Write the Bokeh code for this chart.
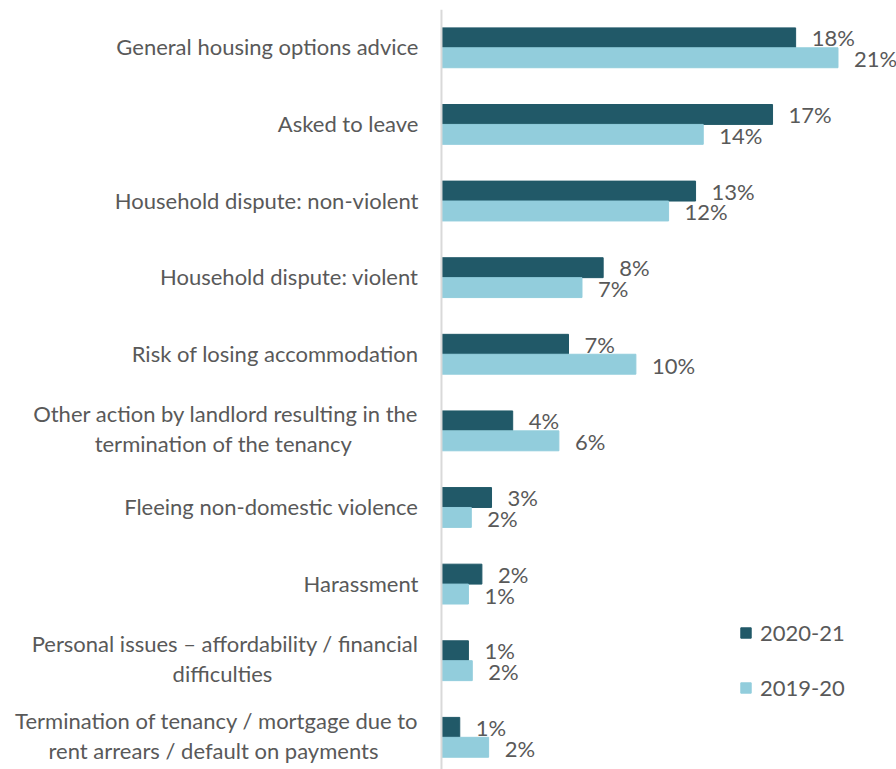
from bokeh.plotting import figure
from bokeh.models import Range1d, ColumnDataSource, Legend, LegendItem, Span
from bokeh.embed import file_html
from bokeh.resources import INLINE
from bokeh.core.properties import value

# ---------------- data ----------------
categories = [
    "General housing options advice",
    "Asked to leave",
    "Household dispute: non-violent",
    "Household dispute: violent",
    "Risk of losing accommodation",
    "Other action by landlord resulting in the\ntermination of the tenancy",
    "Fleeing non-domestic violence",
    "Harassment",
    "Personal issues \u2013 affordability / financial\ndifficulties",
    "Termination of tenancy / mortgage due to\nrent arrears / default on payments",
]
series_names = ["2020-21", "2019-20"]
values_2020_21 = [18.4, 17.2, 13.2, 8.4, 6.6, 3.7, 2.6, 2.1, 1.4, 0.95]
values_2019_20 = [20.6, 13.6, 11.8, 7.3, 10.1, 6.1, 1.55, 1.4, 1.6, 2.45]
labels_2020_21 = ["18%", "17%", "13%", "8%", "7%", "4%", "3%", "2%", "1%", "1%"]
labels_2019_20 = ["21%", "14%", "12%", "7%", "10%", "6%", "2%", "1%", "2%", "2%"]

# ---------------- styling ----------------
DARK = "#215968"
LIGHT = "#92CDDC"
TEXT = "#595959"
FONT = "Lato"
FS = "22px"
BAR_H = 0.26

n = len(categories)
idx = list(range(n))

p = figure(width=896, height=769,
           x_range=Range1d(-22.91, 23.64), y_range=Range1d(9.42, -0.5),
           x_axis_location=None, y_axis_location=None,
           output_backend="svg", toolbar_location=None,
           min_border_left=0, min_border_right=0, min_border_top=9, min_border_bottom=0)
p.grid.visible = False
p.outline_line_color = None
p.background_fill_color = "white"

src = ColumnDataSource(dict(
    y1=[i - BAR_H / 2 for i in idx],
    y2=[i + BAR_H / 2 for i in idx],
    v1=values_2020_21, v2=values_2019_20,
    l1=labels_2020_21, l2=labels_2019_20,
))

r1 = p.hbar(y="y1", left=0, right="v1", height=BAR_H, source=src,
            fill_color=DARK, line_color=DARK)
r2 = p.hbar(y="y2", left=0, right="v2", height=BAR_H, source=src,
            fill_color=LIGHT, line_color=LIGHT)

p.add_layout(Span(location=0, dimension="height", line_color="#D9D9D9", line_width=2))

common = dict(text_font=value(FONT), text_font_size=FS, text_color=TEXT,
              text_baseline="middle")
p.text(x="v1", y="y1", text="l1", source=src, x_offset=16, y_offset=0,
       text_align="left", **common)
p.text(x="v2", y="y2", text="l2", source=src, x_offset=16, y_offset=1,
       text_align="left", **common)

# category labels
single_y, single_t = [], []
first_y, first_t = [], []
second_y, second_t, second_off = [], [], []
center_offsets = {5: -218, 8: -219, 9: -228}
for i, c in enumerate(categories):
    parts = c.split("\n")
    if len(parts) == 1:
        single_y.append(i); single_t.append(c)
    else:
        first_y.append(i); first_t.append(parts[0])
        second_y.append(i); second_t.append(parts[1]); second_off.append(center_offsets[i])

p.text(x=[0] * len(single_y), y=single_y, text=single_t, x_offset=-23, y_offset=-1,
       text_align="right", **common)
p.text(x=[0] * len(first_y), y=first_y, text=first_t, x_offset=-23, y_offset=-17,
       text_align="right", **common)
p.text(x=[0] * len(second_y), y=second_y, text=second_t, x_offset=second_off, y_offset=13,
       text_align="center", **common)

legend = Legend(items=[LegendItem(label=series_names[0], renderers=[r1]),
                       LegendItem(label=series_names[1], renderers=[r2])],
                location=(739, 68), orientation="vertical",
                glyph_width=13, glyph_height=13, label_height=13,
                label_standoff=8, spacing=28, padding=0, margin=0,
                label_text_font=FONT, label_text_font_size=FS, label_text_color=TEXT,
                border_line_color=None, background_fill_alpha=0)
p.add_layout(legend, "center")

open("out.html", "w").write(file_html(p, INLINE))
